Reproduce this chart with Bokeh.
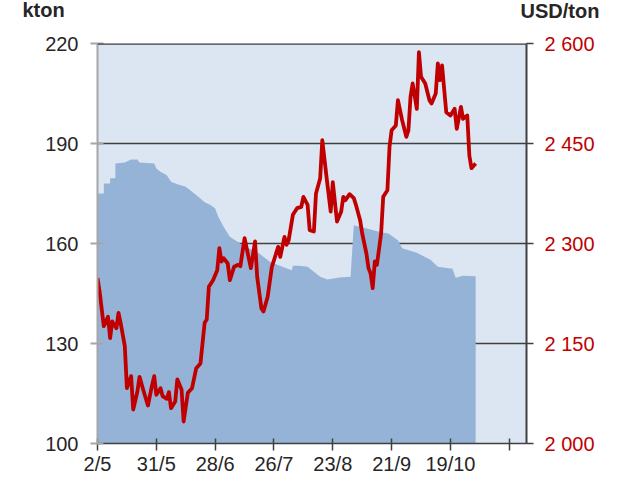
from bokeh.plotting import figure
from bokeh.models import Range1d, LinearAxis, FixedTicker, Label, Span
from bokeh.layouts import column
from bokeh.embed import file_html
from bokeh.resources import INLINE

# ---- data ----
# stocks (kton, left axis) - x in day units from 2/5
stock_day = [0, 3, 3, 6, 6, 8.5, 8.5, 13, 16, 19, 20, 27, 28, 30, 33, 35, 38, 42, 45, 48,
             51, 54, 56, 57.5, 60, 63, 67, 70, 76, 82, 88, 92.5, 93, 96, 100, 103, 106,
             109.5, 115, 120.5, 121, 122, 125, 130, 135, 138.5, 143, 145, 152, 158.5, 162,
             169, 170.5, 174, 180]
stock = [175, 175, 178, 178, 179.6, 179.6, 184, 184.3, 185.2, 185.2, 184.3, 184, 182.5, 181.5,
         180.5, 178.5, 177.8, 177, 175.5, 174, 172.4, 171.5, 170.5, 168, 165, 162, 160.4, 159,
         157.5, 154.5, 153, 152, 153.3, 153.3, 153, 151.5, 150, 149.2, 149.8, 150, 155.7, 165.5,
         165, 164.2, 163.4, 163, 161, 158.6, 157.2, 155.1, 153, 152.4, 149.7, 150.3, 150.2]

# price (USD/ton, right axis)
price_day = [0, 1, 3, 5, 6, 7, 9, 10, 11, 13, 14, 16, 17, 19, 20, 22, 24, 26, 27, 28,
             30, 31, 33, 34, 35, 37, 38, 40, 41, 43, 45, 47, 49, 51, 52, 53, 55, 57, 58, 59,
             60, 62, 63, 65, 67, 68, 70, 73, 75, 76, 78, 79, 81, 83, 86, 87, 89, 90, 91, 93,
             95, 97, 98, 100, 101, 103, 104, 106, 107, 109, 111, 112, 114, 116, 117, 118, 120, 122, 123, 125,
             126, 128, 129, 130, 131, 132, 133, 135, 136, 138, 139, 140, 142, 143, 145, 147, 148, 149, 150, 152,
             153, 154, 156, 158, 159, 161, 162, 163, 164, 166, 168, 170, 171, 173, 174, 176, 177, 178, 180]
price = [2248, 2228, 2176, 2190, 2158, 2183, 2173, 2196, 2181, 2146, 2083, 2101, 2051, 2078, 2100, 2078, 2057, 2088, 2101, 2073,
         2083, 2071, 2067, 2077, 2053, 2063, 2096, 2081, 2033, 2076, 2083, 2113, 2120, 2181, 2186, 2235, 2245, 2260, 2293, 2273,
         2278, 2270, 2245, 2265, 2268, 2266, 2308, 2263, 2303, 2250, 2203, 2198, 2220, 2265, 2295, 2280, 2310, 2298, 2305, 2343,
         2353, 2355, 2370, 2358, 2320, 2318, 2375, 2398, 2455, 2400, 2348, 2392, 2333, 2348, 2370, 2365, 2374, 2368, 2358, 2335,
         2315, 2285, 2263, 2255, 2233, 2273, 2268, 2315, 2370, 2380, 2445, 2470, 2477, 2515, 2485, 2460, 2470, 2520, 2540, 2502,
         2587, 2550, 2540, 2515, 2510, 2525, 2570, 2545, 2567, 2497, 2492, 2502, 2472, 2505, 2487, 2492, 2432, 2413, 2420]

x_ticks = [0, 28, 56, 84, 112, 140, 168, 196]
x_labels = ["2/5", "31/5", "28/6", "26/7", "23/8", "21/9", "19/10", ""]
left_ticks = [100, 130, 160, 190, 220]
right_ticks = [2000, 2150, 2300, 2450, 2600]
right_labels = ["2 000", "2 150", "2 300", "2 450", "2 600"]
left_unit = "kton"
right_unit = "USD/ton"

FONT = "Liberation Sans"
DARK = "#404040"
GRAY = "#a6a6a6"
RED = "#c00000"
TXT = "#262626"
W = 614
HEAD_H = 28

# ---- header strip with the unit titles ----
h = figure(width=W, height=HEAD_H, output_backend="svg", toolbar_location=None,
           x_range=Range1d(0, W), y_range=Range1d(0, HEAD_H),
           x_axis_location=None, y_axis_location=None, min_border=0)
h.frame_align = False
h.outline_line_color = None
h.grid.visible = False
h.background_fill_color = "white"
h.border_fill_color = "white"
h.add_layout(Label(x=22, y=HEAD_H - 20, text=left_unit, text_font=FONT, text_font_size="20px",
                   text_font_style="bold", text_color=TXT))
h.add_layout(Label(x=520, y=HEAD_H - 21, text=right_unit, text_font=FONT, text_font_size="20px",
                   text_font_style="bold", text_color=TXT))

# ---- main chart ----
p = figure(width=W, height=477 - HEAD_H, output_backend="svg", toolbar_location=None,
           x_range=Range1d(0, 204.2), y_range=Range1d(100, 220),
           min_border_left=97, min_border_top=43 - HEAD_H, min_border_right=W - 526,
           min_border_bottom=33)
p.frame_align = False
p.background_fill_color = "#dce6f2"
p.border_fill_color = "white"
p.outline_line_color = None
p.extra_y_ranges = {"usd": Range1d(2000, 2600)}

p.varea(x=stock_day, y1=100, y2=stock, fill_color="#95b3d7")
p.line(price_day, price, y_range_name="usd", line_color=RED, line_width=3.8, line_join="round")

# grid
p.xgrid.visible = False
p.ygrid.ticker = FixedTicker(ticks=left_ticks)
p.ygrid.grid_line_color = DARK
p.ygrid.grid_line_width = 1.5
p.add_layout(Span(location=220, dimension="width", line_color=DARK, line_width=2.5))

# left axis
ly = p.yaxis[0]
ly.ticker = FixedTicker(ticks=left_ticks)
ly.axis_line_color = GRAY
ly.axis_line_width = 2
ly.major_tick_line_color = GRAY
ly.major_tick_line_width = 2
ly.major_tick_in = 6
ly.major_tick_out = 7
ly.minor_tick_line_color = None
ly.major_label_text_font = FONT
ly.major_label_text_font_size = "20px"
ly.major_label_text_color = TXT
ly.major_label_standoff = 12

# bottom axis
bx = p.xaxis[0]
bx.ticker = FixedTicker(ticks=x_ticks)
bx.major_label_overrides = {t: l for t, l in zip(x_ticks, x_labels)}
bx.axis_line_color = DARK
bx.axis_line_width = 1.5
bx.major_tick_line_color = DARK
bx.major_tick_line_width = 1.5
bx.major_tick_in = 5
bx.major_tick_out = 7
bx.minor_tick_line_color = None
bx.major_label_text_font = FONT
bx.major_label_text_font_size = "20px"
bx.major_label_text_color = TXT
bx.major_label_standoff = 2

# right axis
ry = LinearAxis(y_range_name="usd", ticker=FixedTicker(ticks=right_ticks))
ry.major_label_overrides = {t: l for t, l in zip(right_ticks, right_labels)}
ry.axis_line_color = DARK
ry.axis_line_width = 2
ry.major_tick_line_color = DARK
ry.major_tick_line_width = 1.5
ry.major_tick_in = 0
ry.major_tick_out = 7
ry.minor_tick_line_color = None
ry.major_label_text_font = FONT
ry.major_label_text_font_size = "20px"
ry.major_label_text_color = RED
ry.major_label_standoff = 11
p.add_layout(ry, "right")

layout = column(h, p, spacing=0)
open("out.html", "w").write(file_html(layout, INLINE))
